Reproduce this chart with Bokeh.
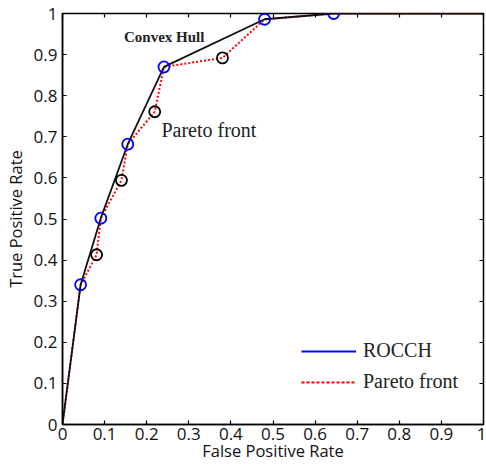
from bokeh.plotting import figure
from bokeh.models import (Range1d, LinearAxis, FixedTicker, Legend, LegendItem,
                          ColumnDataSource, Label, CustomJSTickFormatter)
from bokeh.embed import file_html
from bokeh.resources import INLINE

# Data
ticks = [0, 0.1, 0.2, 0.3, 0.4, 0.5, 0.6, 0.7, 0.8, 0.9, 1.0]
hull_fpr = [0.0, 0.043, 0.091, 0.155, 0.241, 0.480, 0.644, 1.0]
hull_tpr = [0.0, 0.340, 0.502, 0.682, 0.870, 0.986, 1.0, 1.0]
pareto_fpr = [0.0, 0.043, 0.081, 0.091, 0.140, 0.155, 0.219, 0.241, 0.380, 0.480, 0.644, 1.0]
pareto_tpr = [0.0, 0.340, 0.413, 0.502, 0.594, 0.682, 0.761, 0.870, 0.892, 0.986, 1.0, 1.0]
hull_pts_fpr = [0.043, 0.091, 0.155, 0.241, 0.480, 0.644]
hull_pts_tpr = [0.340, 0.502, 0.682, 0.870, 0.986, 1.0]
other_pts_fpr = [0.081, 0.140, 0.219, 0.380]
other_pts_tpr = [0.413, 0.594, 0.761, 0.892]
annot_text = ["Convex Hull", "Pareto front"]
annot_x = [0.146, 0.235]
annot_y = [0.942, 0.717]
legend_labels = ["ROCCH", "Pareto front"]

SANS = "Open Sans"
SERIF = "Liberation Serif"

p = figure(width=486, height=464, output_backend="svg", toolbar_location=None,
           x_range=Range1d(0, 1), y_range=Range1d(0, 1),
           min_border_left=58, min_border_right=3, min_border_top=13, min_border_bottom=40)
p.grid.visible = False
p.outline_line_color = "black"
p.outline_line_width = 1.5

tk = FixedTicker(ticks=ticks)
for ax in (p.xaxis[0], p.yaxis[0]):
    ax.ticker = tk
    ax.major_tick_in = 4
    ax.major_tick_out = 0
    ax.minor_tick_line_color = None
    ax.axis_line_width = 1.5
    ax.major_tick_line_width = 1.2
    ax.major_label_text_font = SANS
    ax.major_label_text_font_size = "17px"
    ax.major_label_text_color = "#111111"
    ax.axis_label_text_font = SANS
    ax.axis_label_text_font_size = "16.5px"
    ax.axis_label_text_font_style = "normal"
    ax.axis_label_text_color = "#111111"
p.xaxis.axis_label = "False Positive Rate"
p.yaxis.axis_label = "True Positive Rate"
p.xaxis.major_label_standoff = 3
p.xaxis.axis_label_standoff = -4
p.yaxis.major_label_standoff = 5
p.yaxis.axis_label_standoff = 4

blank = CustomJSTickFormatter(code="return ''")
for loc in ("above", "right"):
    ax = LinearAxis(ticker=tk, major_tick_in=4, major_tick_out=0,
                    minor_tick_line_color=None, formatter=blank,
                    major_label_text_font_size="1px",
                    major_label_standoff=0, axis_line_color=None,
                    major_tick_line_width=1.2)
    p.add_layout(ax, loc)

# Pareto front (red dotted)
p.line(pareto_fpr, pareto_tpr, line_color="red", line_width=2, line_dash="2 2")
# Convex hull (black)
p.line(hull_fpr, hull_tpr, line_color="#111111", line_width=1.8)
# circles
p.scatter(other_pts_fpr, other_pts_tpr, marker="circle", size=11, fill_color=None,
          line_color="black", line_width=1.8)
p.scatter(hull_pts_fpr, hull_pts_tpr, marker="circle", size=11, fill_color=None,
          line_color="blue", line_width=1.8)

# annotations
p.add_layout(Label(x=annot_x[0], y=annot_y[0], text=annot_text[0], text_font=SERIF,
                   text_font_size="15px", text_font_style="bold", text_color="#222222",
                   text_baseline="alphabetic"))
p.add_layout(Label(x=annot_x[1], y=annot_y[1], text=annot_text[1], text_font=SERIF,
                   text_font_size="20px", text_color="#222222",
                   text_baseline="alphabetic"))

# legend key renderers (NaN data: nothing drawn in the plot, only the legend keys)
nan = float("nan")
key_src = ColumnDataSource(data=dict(x=[nan], y=[nan]))
r1 = p.line("x", "y", source=key_src, line_color="blue", line_width=2)
r2 = p.line("x", "y", source=key_src, line_color="red", line_width=2, line_dash="3 2")
legend = Legend(items=[LegendItem(label=legend_labels[0], renderers=[r1]),
                       LegendItem(label=legend_labels[1], renderers=[r2])],
                location=(239, 31), padding=0, margin=0, spacing=8,
                glyph_width=55, glyph_height=22, label_height=22, label_standoff=7,
                border_line_alpha=0, background_fill_alpha=0,
                label_text_font=SERIF, label_text_font_size="20px",
                label_text_color="#222222")
p.add_layout(legend)

open("out.html", "w").write(file_html(p, INLINE))
